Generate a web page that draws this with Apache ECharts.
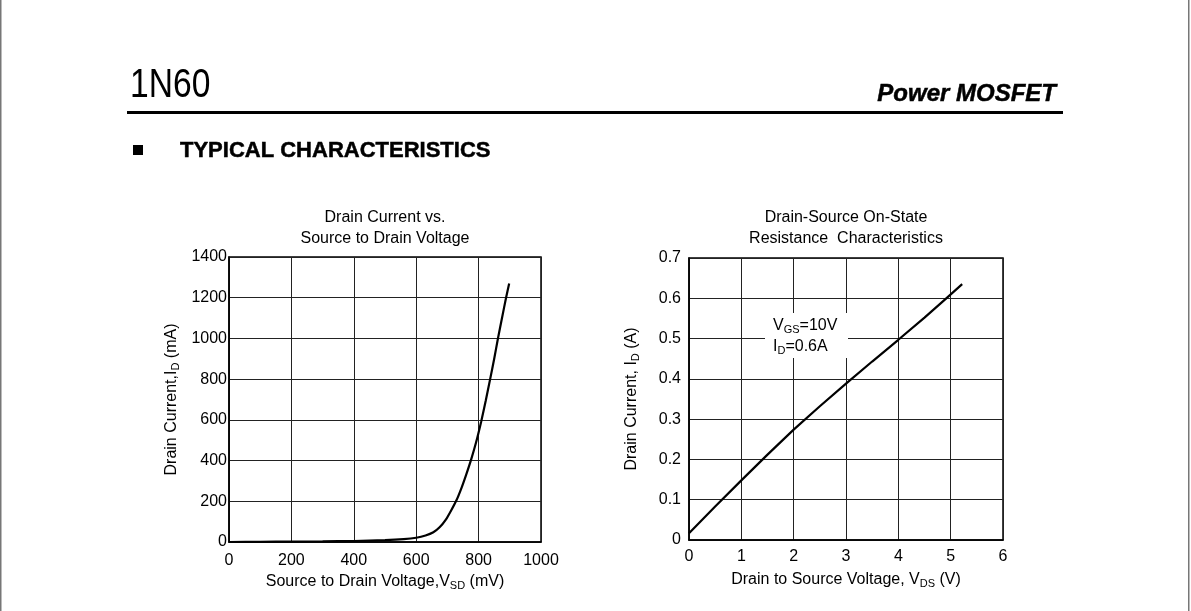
<!DOCTYPE html>
<html>
<head>
<meta charset="utf-8">
<script src="https://cdn.jsdelivr.net/npm/echarts@6/dist/echarts.min.js"></script>
<style>
html,body{margin:0;padding:0;background:#fff;}
#c{width:1191px;height:611px;}
</style>
</head>
<body>
<div id="c"></div>
<script>
// ---- data ----
var vsdCurve = [ // [Source to Drain Voltage (mV), Drain Current (mA)]
  [0,0],[100,1],[200,2],[300,3],[400,5],[500,9],[560,14],[600,21],[630,32],
  [655,48],[675,72],[695,110],[712,155],[729,205],[745,265],[760,330],[776,405],
  [792,490],[808,590],[823,695],[837,800],[850,900],[862,1000],[875,1100],[888,1200],[898,1270]
];
var vdsCurve = [ // [Drain to Source Voltage (V), Drain Current (A)]
  [0,0.017],[0.5,0.083],[1,0.148],[1.5,0.212],[2,0.274],[2.5,0.332],[3,0.388],
  [3.5,0.443],[4,0.497],[4.5,0.552],[4.9,0.598],[5.22,0.635]
];
var leftXTicks = {min:0, max:1000, interval:200};
var leftYTicks = {min:0, max:1400, interval:200};
var rightXTicks = {min:0, max:6, interval:1};
var rightYTicks = {min:0, max:0.7, interval:0.1};

var FONT = 'Liberation Sans, Arial, sans-serif';
var chart = echarts.init(document.getElementById('c'), null, {renderer:'canvas'});

var subRich = {
  s:{fontSize:11, fontFamily:FONT, color:'#000', verticalAlign:'bottom', lineHeight:18},
  n:{fontSize:16, fontFamily:FONT, color:'#000', lineHeight:18}
};

function xAxisCfg(idx, ticks, name, margin){
  return {
    type:'value', gridIndex:idx, min:ticks.min, max:ticks.max, interval:ticks.interval,
    axisLine:{show:true, lineStyle:{color:'#000', width:1.5}},
    axisTick:{show:false},
    splitLine:{show:true, lineStyle:{color:'#222', width:1}},
    axisLabel:{color:'#000', fontSize:16, fontFamily:FONT, margin:margin, formatter:function(v){return String(v);}},
    name:name, nameLocation:'middle', nameGap:31,
    nameTextStyle:{color:'#000', fontSize:16, fontFamily:FONT, rich:subRich}
  };
}
function yAxisCfg(idx, ticks, name, margin, gap, fmt){
  return {
    type:'value', gridIndex:idx, min:ticks.min, max:ticks.max, interval:ticks.interval,
    axisLine:{show:true, lineStyle:{color:'#000', width:1.5}},
    axisTick:{show:false},
    splitLine:{show:true, lineStyle:{color:'#222', width:1}},
    axisLabel:{color:'#000', fontSize:16, fontFamily:FONT, margin:margin, formatter:fmt},
    name:name, nameLocation:'middle', nameGap:gap, nameRotate:90,
    nameTextStyle:{color:'#000', fontSize:16, fontFamily:FONT, rich:subRich}
  };
}

var option = {
  backgroundColor:'#fff',
  animation:false,
  grid:[
    {left:229, top:257, width:312, height:285, show:true, borderColor:'#000', borderWidth:1.5, backgroundColor:'transparent'},
    {left:689, top:258, width:314, height:282, show:true, borderColor:'#000', borderWidth:1.5, backgroundColor:'transparent'}
  ],
  xAxis:[
    xAxisCfg(0, leftXTicks, '{n|Source to Drain Voltage,V}{s|SD}{n| (mV)}', 11),
    xAxisCfg(1, rightXTicks, '{n|Drain to Source Voltage, V}{s|DS}{n| (V)}', 9)
  ],
  yAxis:[
    yAxisCfg(0, leftYTicks, '{n|Drain Current,I}{s|D}{n| (mA)}', 2, 48, function(v){return String(v);}),
    yAxisCfg(1, rightYTicks, '{n|Drain Current, I}{s|D}{n| (A)}', 8, 48, function(v){return v===0?'0':v.toFixed(1);})
  ],
  series:[
    {type:'line', xAxisIndex:0, yAxisIndex:0, data:vsdCurve, smooth:0.2, showSymbol:false,
     lineStyle:{color:'#000', width:2.2}, z:5},
    {type:'line', xAxisIndex:1, yAxisIndex:1, data:vdsCurve, smooth:false, showSymbol:false,
     lineStyle:{color:'#000', width:2.2}, z:5}
  ],
  graphic:[
    // page edges
    {type:'rect', shape:{x:0, y:0, width:1.5, height:611}, style:{fill:'#777'}, z:100},
    {type:'rect', shape:{x:1188, y:0, width:1.5, height:611}, style:{fill:'#777'}, z:100},
    // header
    {type:'text', x:130, y:106, scaleX:0.84, style:{text:'1N60', font:'normal 40px "Liberation Sans Narrow", "Liberation Sans", sans-serif', fill:'#000', textVerticalAlign:'bottom'}, z:100},
    {type:'rect', shape:{x:127, y:111, width:936, height:3}, style:{fill:'#000'}, z:100},
    {type:'text', x:1056, y:106, style:{text:'Power MOSFET', font:'italic bold 24px "Liberation Sans", Arial, sans-serif', fill:'#000', textAlign:'right', textVerticalAlign:'bottom', stroke:'#000', lineWidth:0.5}, z:100},
    {type:'rect', shape:{x:133, y:145, width:10, height:10}, style:{fill:'#000'}, z:100},
    {type:'text', x:180, y:151, style:{text:'TYPICAL CHARACTERISTICS', font:'bold 22px "Liberation Sans", Arial, sans-serif', fill:'#000', textVerticalAlign:'middle', stroke:'#000', lineWidth:0.5}, z:100},
    // chart titles
    {type:'text', x:385, y:218, style:{text:'Drain Current vs.', font:'16px "Liberation Sans", Arial, sans-serif', fill:'#000', textAlign:'center', textVerticalAlign:'middle'}, z:100},
    {type:'text', x:385, y:239, style:{text:'Source to Drain Voltage', font:'16px "Liberation Sans", Arial, sans-serif', fill:'#000', textAlign:'center', textVerticalAlign:'middle'}, z:100},
    {type:'text', x:846, y:218, style:{text:'Drain-Source On-State', font:'16px "Liberation Sans", Arial, sans-serif', fill:'#000', textAlign:'center', textVerticalAlign:'middle'}, z:100},
    {type:'text', x:846, y:239, style:{text:'Resistance  Characteristics', font:'16px "Liberation Sans", Arial, sans-serif', fill:'#000', textAlign:'center', textVerticalAlign:'middle'}, z:100},
    // annotation in right chart
    {type:'rect', shape:{x:765, y:313, width:83, height:45}, style:{fill:'#fff'}, z:50},
    {type:'text', x:773, y:326, style:{text:'{n|V}{s|GS}{n|=10V}', rich:subRich, textVerticalAlign:'middle'}, z:60},
    {type:'text', x:773, y:347, style:{text:'{n|I}{s|D}{n|=0.6A}', rich:subRich, textVerticalAlign:'middle'}, z:60}
  ]
};
chart.setOption(option);
</script>
</body>
</html>
